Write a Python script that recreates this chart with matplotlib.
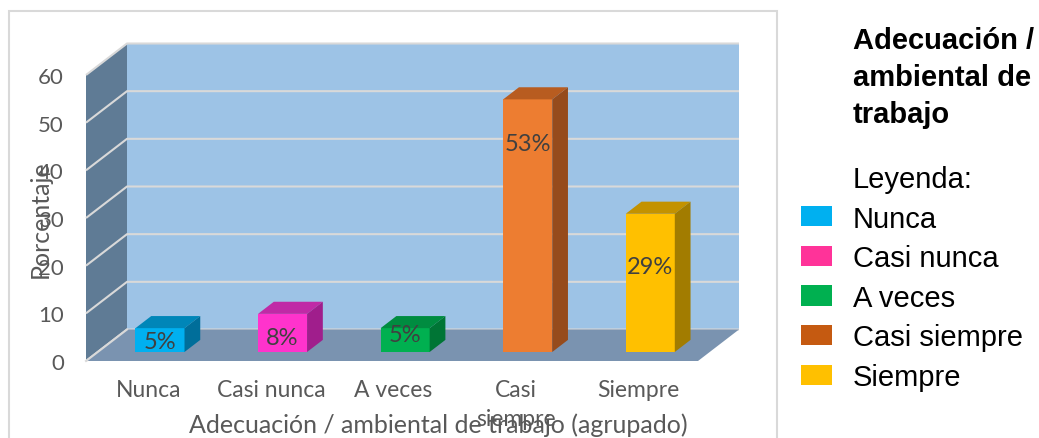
import matplotlib
matplotlib.use("Agg")
import matplotlib.pyplot as plt
from matplotlib.patches import Polygon, Rectangle, Patch

# ---- data ----
categories = ["Nunca", "Casi nunca", "A veces", "Casi siempre", "Siempre"]
tick_labels = ["Nunca", "Casi nunca", "A veces", "Casi\nsiempre", "Siempre"]
values = [5, 8, 5, 53, 29]
value_labels = ["5%", "8%", "5%", "53%", "29%"]
y_ticks = [0, 10, 20, 30, 40, 50, 60]
legend_title = "Adecuación /\nambiental de\ntrabajo"
x_title = "Adecuación / ambiental de trabajo (agrupado)"
y_title = "Porcentaje"

# ---- style ----
front_cols = ["#00B0F0", "#FF33CC", "#00B050", "#ED7D31", "#FFC000"]
top_cols = ["#0086B8", "#C02AA6", "#008C40", "#B85C20", "#C39200"]
side_cols = ["#006E9A", "#A01E8C", "#007535", "#964B1C", "#A27C00"]
legend_cols = ["#00B0F0", "#FF3399", "#00B050", "#C55A11", "#FFC000"]
label_drop = [2.9, 4.9, 1.3, 9.3, 11.1]   # label placement below bar top

W, H = 1039, 439
fig = plt.figure(figsize=(W / 100, H / 100), dpi=100)

# axes = front plane of the 3-D box (pixel placement)
L, B, R, T = 86, 362, 698, 76
ax = fig.add_axes([L / W, 1 - B / H, (R - L) / W, (B - T) / H])
xmin, xmax = -0.508, 4.485
ymax = 60
ax.set_xlim(xmin, xmax)
ax.set_ylim(0, ymax)
ax.patch.set_visible(False)
for s in ax.spines.values():
    s.set_visible(False)

px_per_x = (R - L) / (xmax - xmin)
px_per_y = (B - T) / ymax
ddx = 41 / px_per_x      # depth offset in data units
ddy = 31.5 / px_per_y

wall_back = "#9DC3E6"
wall_side = "#5F7B95"
floor_c = "#7A93B0"
grid_c = "#D9D9D9"

# back wall
ax.add_patch(Polygon([(xmin + ddx, ddy), (xmax + ddx, ddy), (xmax + ddx, ymax + ddy),
                      (xmin + ddx, ymax + ddy)], closed=True, facecolor=wall_back,
                     edgecolor="none", clip_on=False, zorder=1))
# left wall
ax.add_patch(Polygon([(xmin, 0), (xmin + ddx, ddy), (xmin + ddx, ymax + ddy), (xmin, ymax)],
                     closed=True, facecolor=wall_side, edgecolor="none", clip_on=False, zorder=1))
# gridlines
for v in y_ticks:
    ax.plot([xmin, xmin + ddx, xmax + ddx], [v, v + ddy, v + ddy], color=grid_c, lw=1.5,
            clip_on=False, zorder=2, solid_capstyle="butt")
# floor
ax.add_patch(Polygon([(xmin, 0), (xmax, 0), (xmax + ddx, ddy), (xmin + ddx, ddy)],
                     closed=True, facecolor=floor_c, edgecolor="none", clip_on=False, zorder=3))
ax.plot([xmin, xmin + ddx], [0, ddy], color=grid_c, lw=1.5, clip_on=False, zorder=3.5)

# bars
d0, d1 = 0.286, 0.67
bw = 0.4
for i, v in enumerate(values):
    x0 = i - bw / 2 + d0 * ddx
    y0 = d0 * ddy
    ox, oy = (d1 - d0) * ddx, (d1 - d0) * ddy
    ax.add_patch(Rectangle((x0, y0), bw, v, facecolor=front_cols[i], edgecolor="none",
                           clip_on=False, zorder=5))
    ax.add_patch(Polygon([(x0, y0 + v), (x0 + bw, y0 + v), (x0 + bw + ox, y0 + v + oy),
                          (x0 + ox, y0 + v + oy)], closed=True, facecolor=top_cols[i],
                         edgecolor="none", clip_on=False, zorder=5))
    ax.add_patch(Polygon([(x0 + bw, y0), (x0 + bw + ox, y0 + oy), (x0 + bw + ox, y0 + v + oy),
                          (x0 + bw, y0 + v)], closed=True, facecolor=side_cols[i],
                         edgecolor="none", clip_on=False, zorder=5))
    ax.text(x0 + bw / 2, y0 + v - label_drop[i], value_labels[i], ha="center", va="center",
            fontsize=17, color="#404040", family="Lato", zorder=6)

# ticks
ax.set_yticks(y_ticks)
ax.set_yticklabels([str(t) for t in y_ticks], fontsize=16, color="#595959", family="Lato")
ax.set_xticks(range(len(categories)))
ax.set_xticklabels(tick_labels, fontsize=16.5, color="#595959", family="Lato", linespacing=1.45)
ax.tick_params(axis="y", length=0, pad=16)
ax.tick_params(axis="x", length=0, pad=13)
for lab in ax.get_xticklabels():
    lab.set_verticalalignment("top")
ax.set_ylabel(y_title, fontsize=18, color="#595959", family="Lato", va="center")
ax.yaxis.set_label_coords(-46 / (R - L), 0.5)
ax.set_xlabel(x_title, fontsize=18, color="#595959", family="Lato", va="center")
ax.xaxis.set_label_coords((438 - L) / (R - L), -(425 - B) / (B - T))

# chart frame
fig.patches.append(Rectangle((9 / W, -0.05), (777 - 9) / W, 1 - 12 / H + 0.05,
                             transform=fig.transFigure, facecolor="none",
                             edgecolor="#D9D9D9", lw=1.5))

# legend
fig.text(853 / W, 1 - 27 / H, legend_title, ha="left", va="top", fontsize=21,
         fontweight="bold", family="Liberation Sans", linespacing=1.42)
handles = [Patch(facecolor="none", edgecolor="none")] + \
          [Patch(facecolor=c, edgecolor="none") for c in legend_cols]
labels = ["Leyenda:"] + categories
leg = fig.legend(handles, labels, loc="upper left", bbox_to_anchor=(801 / W, 1 - 166 / H),
                 frameon=False, prop={"family": "Liberation Sans", "size": 21},
                 handlelength=1.06, handleheight=0.68, handletextpad=0.72, labelspacing=0.397,
                 borderpad=0, borderaxespad=0)

fig.savefig("out.png", dpi=100)
